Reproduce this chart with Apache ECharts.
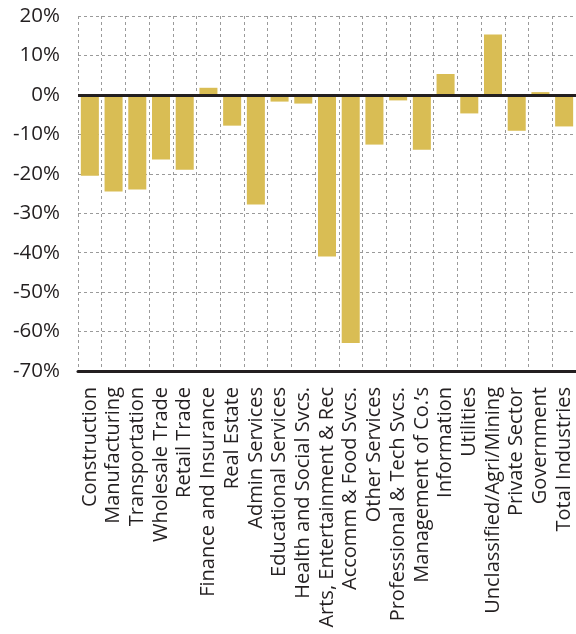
<!DOCTYPE html>
<html>
<head>
<meta charset="utf-8">
<script src="https://cdn.jsdelivr.net/npm/echarts@6/dist/echarts.min.js"></script>
<style>
  html, body { margin: 0; padding: 0; background: #fff; }
  #chart { width: 576px; height: 634px; }
</style>
</head>
<body>
<div id="chart"></div>
<script>
const categories = ['Construction', 'Manufacturing', 'Transportation', 'Wholesale Trade', 'Retail Trade',
  'Finance and Insurance', 'Real Estate', 'Admin Services', 'Educational Services', 'Health and Social Svcs.',
  'Arts, Entertainment & Rec', 'Accomm & Food Svcs.', 'Other Services', 'Professional & Tech Svcs.',
  'Management of Co.\u2019s', 'Information', 'Utilities', 'Unclassified/Agri/Mining', 'Private Sector',
  'Government', 'Total Industries']
const changePct = [-20.5, -24.5, -24.0, -16.4, -19.0, 1.8, -7.8, -27.8, -1.7, -2.2,
  -41.0, -62.9, -12.6, -1.4, -13.9, 5.3, -4.7, 15.3, -9.1, 0.7, -8.0]

const font = '"Open Sans", "Noto Sans", sans-serif'
const grid = { type: [3, 3], color: '#9a9a9a', width: 1 }

const chart = echarts.init(document.getElementById('chart'))
chart.setOption({
  animation: false,
  grid: { left: 78, right: 0, top: 16, bottom: 263 },
  xAxis: {
    type: 'category', data: categories,
    axisLine: { onZero: false, lineStyle: { color: '#231f20', width: 3 } },
    axisTick: { show: false },
    splitLine: { show: true, lineStyle: grid },
    axisLabel: { rotate: 90, interval: 0, fontSize: 20, color: '#231f20', fontFamily: font, margin: 16 }
  },
  yAxis: {
    type: 'value', min: -70, max: 20, interval: 10,
    axisLine: { show: false }, axisTick: { show: false },
    splitLine: { lineStyle: grid },
    axisLabel: { formatter: '{value}%', fontSize: 20.5, color: '#231f20', fontFamily: font, margin: 18 }
  },
  series: [{
    type: 'bar', data: changePct, barWidth: '76%',
    itemStyle: { color: '#d9bd54' },
    markLine: {
      silent: true, symbol: 'none', label: { show: false },
      lineStyle: { color: '#231f20', width: 3, type: 'solid' },
      data: [{ yAxis: 0 }]
    }
  }]
})
</script>
</body>
</html>
